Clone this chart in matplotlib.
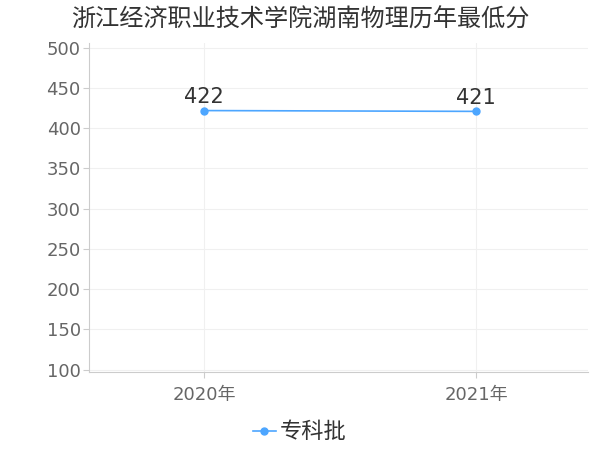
import matplotlib
matplotlib.use("Agg")
import matplotlib.pyplot as plt

plt.rcParams['font.family'] = ['DejaVu Sans', 'Noto Sans CJK SC']
cjk = ['Noto Sans CJK SC', 'DejaVu Sans']

years = ["2020年", "2021年"]
scores = [422, 421]
series_name = "专科批"
title = "浙江经济职业技术学院湖南物理历年最低分"

fig = plt.figure(figsize=(6, 4.5), dpi=100)
ax = fig.add_axes([89/600, 1-372/450, (588-89)/600, (372-43)/450])

x = list(range(len(years)))
ax.plot(x, scores, color='#4da6ff', lw=1.2, marker='o', ms=5, label=series_name)
for xi, v in zip(x, scores):
    ax.text(xi, v + 4, str(v), ha='center', va='bottom', fontsize=15, color='#333333')

ax.set_xlim(-0.423, 1.412)
ax.set_ylim(97, 506)
ax.set_yticks(range(100, 501, 50))
ax.set_xticks(x)
ax.set_xticklabels(years)
ax.tick_params(axis='both', colors='#cccccc', labelcolor='#666666', labelsize=13, length=4)
ax.tick_params(axis='x', pad=6)
ax.tick_params(axis='y', pad=2)
ax.grid(True, color='#f0f0f0', lw=0.8)
for s in ['top', 'right']:
    ax.spines[s].set_visible(False)
for s in ['left', 'bottom']:
    ax.spines[s].set_color('#cccccc')

fig.text(0.5, 1-20/450, title, ha='center', va='center', fontsize=17.4, color='#333333',
         family=cjk)
fig.legend(loc='center', bbox_to_anchor=(0.5, 1-432/450), frameon=False,
           prop={'family': cjk, 'size': 16},
           handlelength=1.0, handletextpad=0.2, labelcolor='#333333')

fig.savefig("out.png")
